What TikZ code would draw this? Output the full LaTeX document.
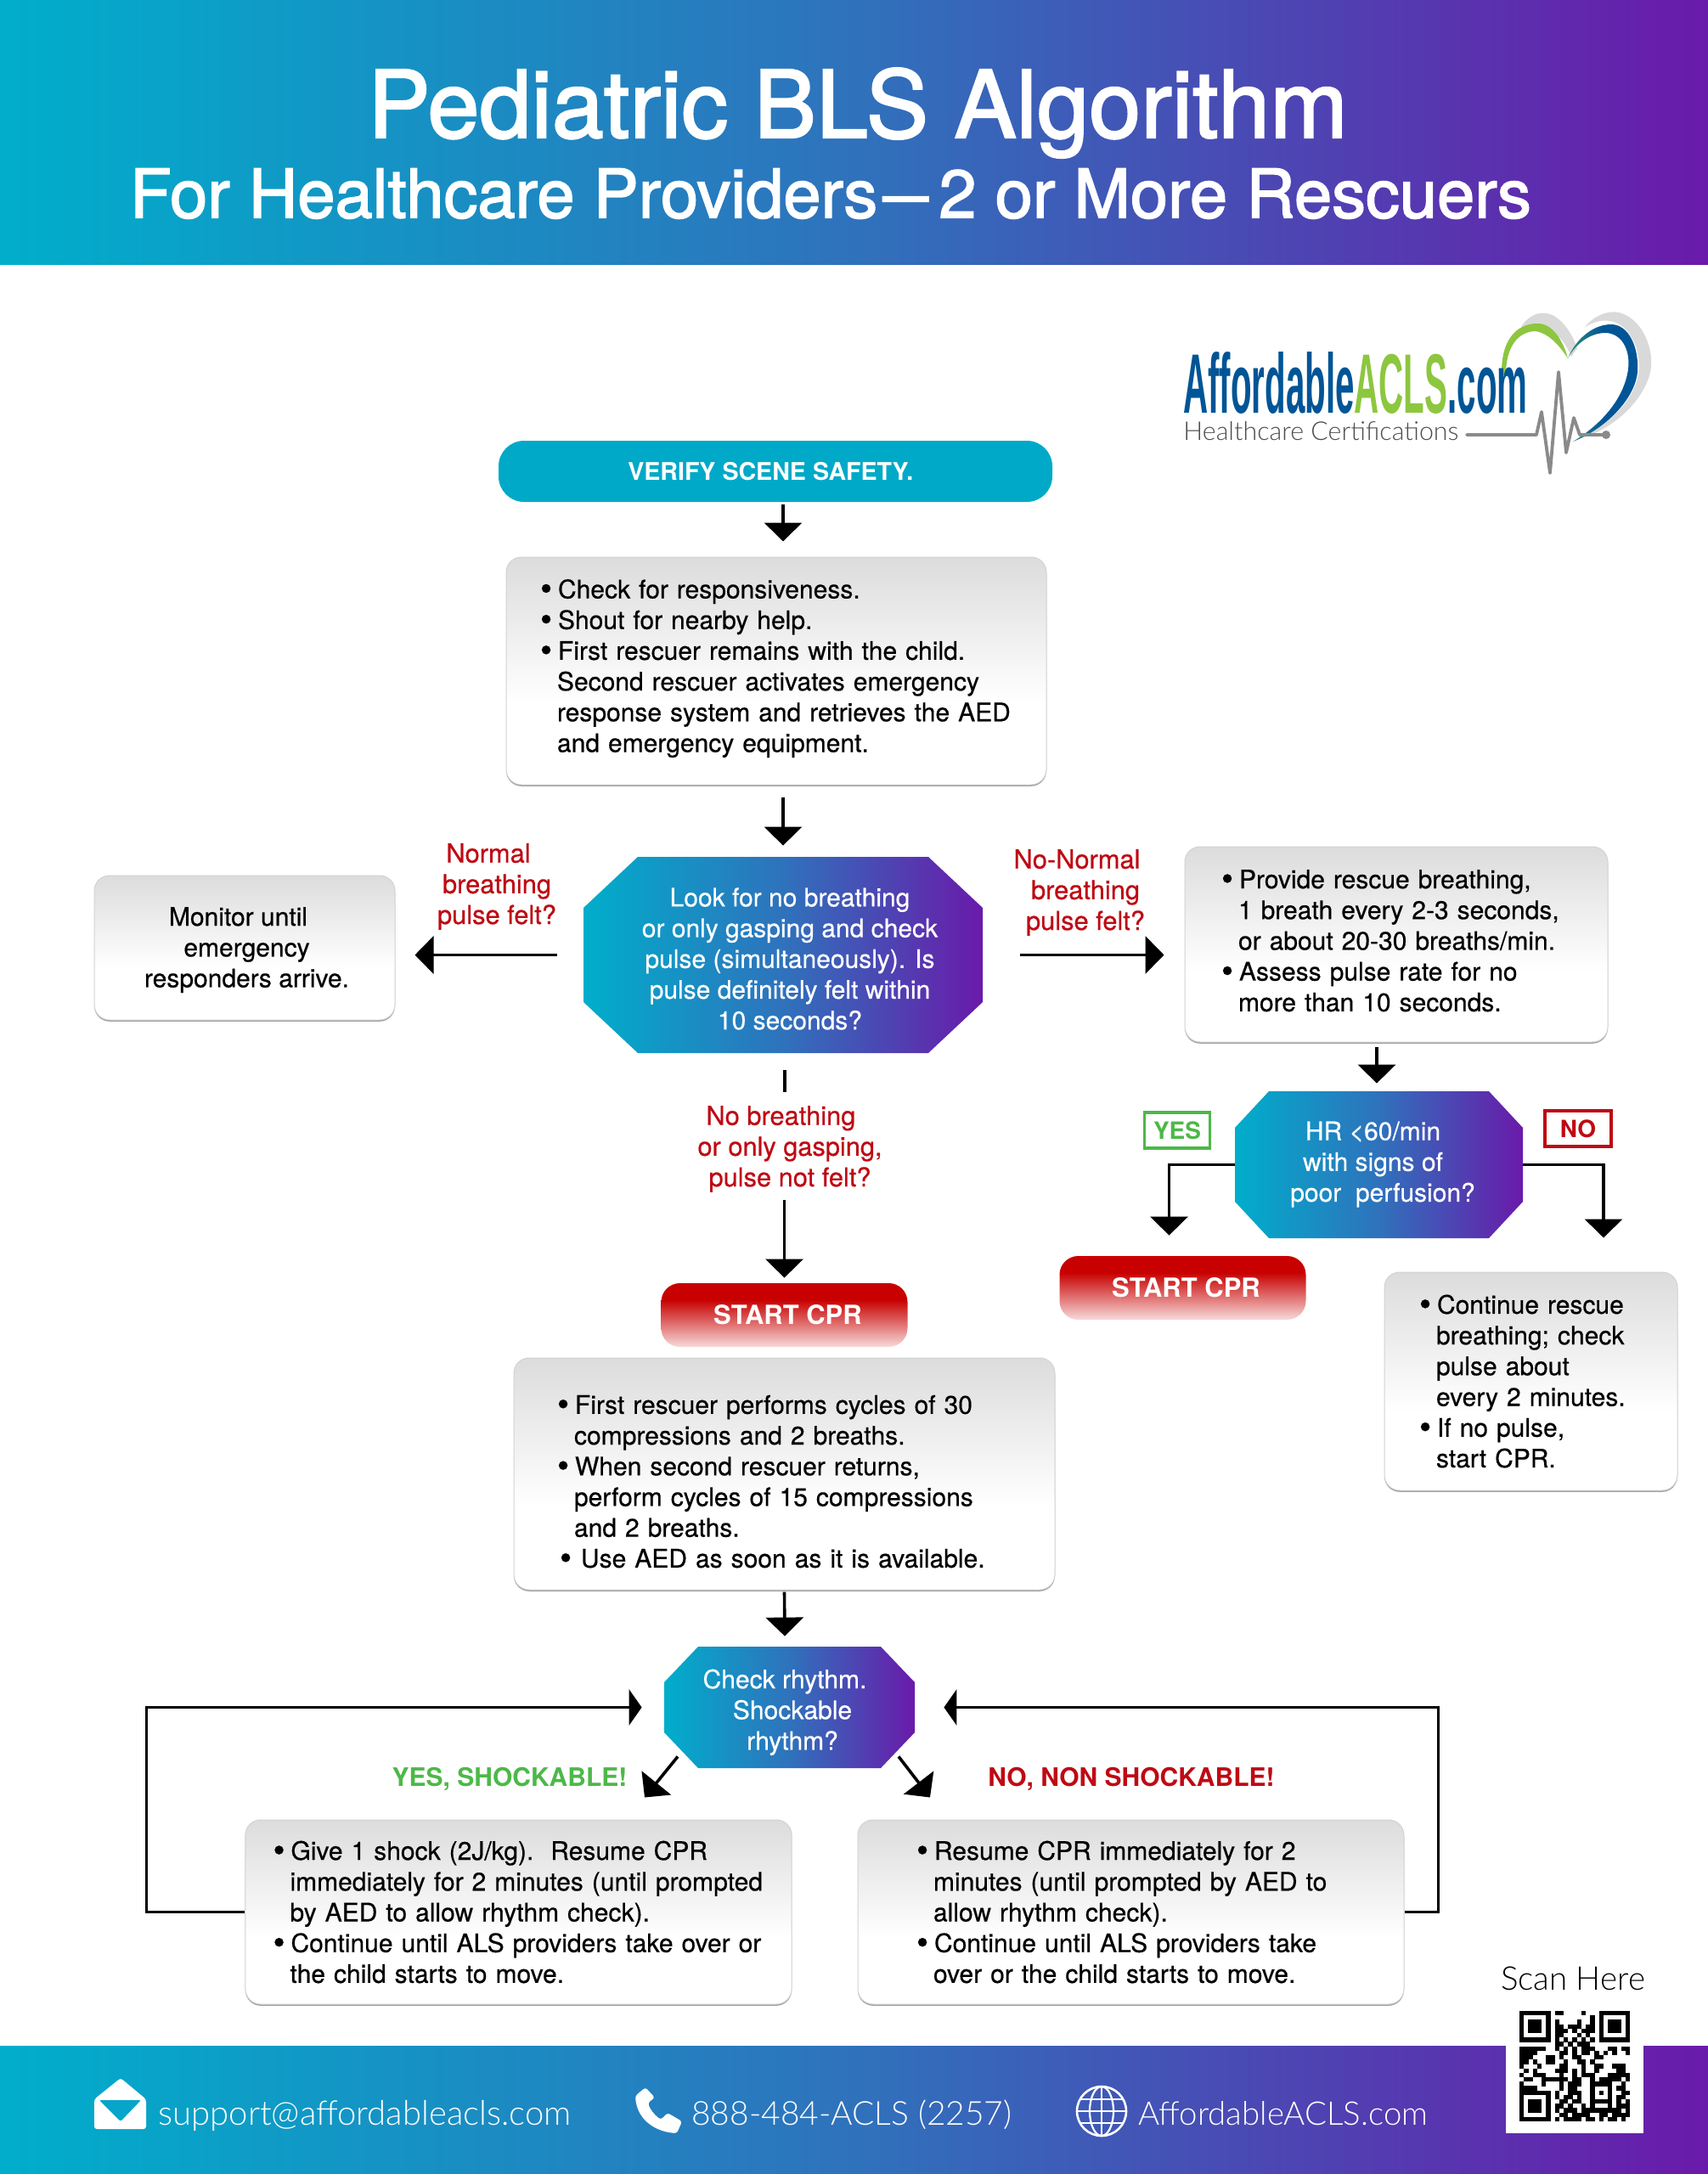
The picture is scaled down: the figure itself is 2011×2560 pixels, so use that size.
\documentclass[tikz,border=0pt]{standalone}
\usepackage{fontspec}
\usetikzlibrary{arrows.meta,calc,shadows}
\setmainfont{TeX Gyre Heros}
\newfontfamily\medb[FakeBold=0.5]{TeX Gyre Heros}
\newfontfamily\medt[FakeBold=2]{TeX Gyre Heros}
\newfontfamily\lightf{Lato Light}
\newfontfamily\logof{Liberation Sans}
\definecolor{cA}{HTML}{00AECB}
\definecolor{cB}{HTML}{2F72BC}
\definecolor{cC}{HTML}{6A1AAA}
\definecolor{teal0}{HTML}{00A9C7}
\definecolor{redT}{HTML}{BE0A14}
\definecolor{greenT}{HTML}{4DB848}
\definecolor{boxtop}{HTML}{DCDCDC}
\definecolor{cprtop}{HTML}{C80000}
\definecolor{cprbot}{HTML}{F8DADA}
\definecolor{logoB}{HTML}{005596}
\definecolor{logoG}{HTML}{8DC63F}
\definecolor{logoT}{HTML}{2E8B78}
\definecolor{logoY}{HTML}{D9D9D9}
\definecolor{ecg}{HTML}{8A8A8A}
\pgfdeclarehorizontalshading{brand}{100bp}{color(0bp)=(cA);color(25bp)=(cA);color(50bp)=(cB);color(75bp)=(cC);color(100bp)=(cC)}
\pgfdeclareverticalshading{boxshade}{100bp}{color(0bp)=(white);color(43bp)=(white);color(75bp)=(boxtop);color(100bp)=(boxtop)}
\pgfdeclareverticalshading{cprshade}{100bp}{color(0bp)=(cprbot);color(25bp)=(cprbot);color(62bp)=(cprtop);color(100bp)=(cprtop)}
\newcommand\bul{\makebox[10.5pt][l]{\raisebox{-0.08em}{\scalebox{1.35}{•}}}}
\newcommand\ind{\hspace*{10pt}}
\newcommand\shifted[2]{\hspace*{#1}\begin{tabular}{@{}c@{}}#2\end{tabular}}
\newcommand\octbg[6]{\shade[shading=brand] ({#1-#3/2+#5},{#2-#4/2}) -- ({#1+#3/2-#5},{#2-#4/2}) -- ({#1+#3/2},{#2-#4/2+#6}) -- ({#1+#3/2},{#2+#4/2-#6}) -- ({#1+#3/2-#5},{#2+#4/2}) -- ({#1-#3/2+#5},{#2+#4/2}) -- ({#1-#3/2},{#2+#4/2-#6}) -- ({#1-#3/2},{#2-#4/2+#6}) -- cycle;}
\newcount\qx
\def\qrparse#1{\ifx#1;\else\if#1X\fill[black] ({1789+\the\qx*5.2},{2368+\qy*5.2}) rectangle ++(5.4,5.4);\fi\global\advance\qx by 1 \expandafter\qrparse\fi}
\tikzset{
 x=0.5pt,y=-0.5pt,
 arr/.style={line width=1.8pt,-{Triangle[width=22pt,length=11pt]}},
 arrside/.style={line width=1.8pt,-{Triangle[width=21pt,length=7.5pt]}},
 boxn/.style={rectangle,rounded corners=9pt,draw=gray!35,line width=0.5pt,shade,shading=boxshade,
   general shadow={shadow yshift=-0.9pt,fill=gray!75},inner ysep=0pt,minimum height=#1,align=left,
   font=\medb\fontsize{15}{18.1}\selectfont,text=black},
 oct/.style={rectangle,inner sep=0pt,text=white,
   font=\medb\fontsize{15}{18.1}\selectfont},
 cprn/.style={rectangle,rounded corners=11pt,shade,shading=cprshade,minimum width=145pt,minimum height=37.5pt,
   text=white,font=\bfseries\fontsize{15.5}{18}\selectfont,inner sep=0pt},
 redl/.style={text=redT,font=\medb\fontsize{15.4}{18.1}\selectfont,inner sep=0pt},
 grnl/.style={text=greenT,font=\bfseries\fontsize{15}{18.1}\selectfont,inner sep=0pt},
 foot/.style={text=white,anchor=base west,inner sep=0pt},
}
\begin{document}
\begin{tikzpicture}
\useasboundingbox (0,0) rectangle (2011,2560);
\fill[white] (0,0) rectangle (2011,2560);
% header and footer bands
\shade[shading=brand] (0,0) rectangle (2011,311);
\shade[shading=brand] (0,2409) rectangle (2011,2560);
\node[text=white,font=\medt\fontsize{54.9}{60}\selectfont,inner sep=0pt] (title) at (1010,133) {Pediatric BLS Algorithm};
\node[text=white,font=\medt\fontsize{39.8}{44}\selectfont,inner sep=0pt] (subtitle) at (978,228) {For Healthcare Providers\hspace{3pt}\scalebox{0.68}[1]{—}\hspace{6pt}2 or More Rescuers};
% logo
\fill[logoY] (1791,385) .. controls (1800,370) and (1815,366) .. (1825,370) .. controls (1840,375) and (1852,395) .. (1857,410) -- (1850,420) .. controls (1840,395) and (1825,382) .. (1791,385) -- cycle;
\fill[logoY] (1866,385) .. controls (1880,368) and (1900,364) .. (1912,370) .. controls (1935,380) and (1946,410) .. (1944,432) .. controls (1940,470) and (1895,510) .. (1856,517) .. controls (1895,500) and (1928,470) .. (1930,432) .. controls (1930,405) and (1915,380) .. (1895,378) .. controls (1885,376) and (1875,380) .. (1866,385) -- cycle;
\fill[logoG] (1768,438) .. controls (1768,395) and (1790,380) .. (1812,381) .. controls (1828,382) and (1840,400) .. (1846,422) .. controls (1835,405) and (1822,392) .. (1808,390) .. controls (1790,390) and (1772,405) .. (1773,445) -- cycle;
\shade[left color=logoT,right color=logoB,middle color=logoB] (1846,422) .. controls (1855,400) and (1875,382) .. (1897,382) .. controls (1918,382) and (1930,410) .. (1928,438) .. controls (1925,470) and (1890,505) .. (1852,520) .. controls (1885,500) and (1912,470) .. (1917,435) .. controls (1920,410) and (1908,392) .. (1890,392) .. controls (1872,392) and (1855,405) .. (1846,422) -- cycle;
\node[anchor=south west,inner sep=0pt] (logotext) at (1393,488) {\resizebox{202.5pt}{36pt}{\logof\bfseries\color{logoB}Affordable\color{logoG}ACLS\color{logoB}.com}};
\node[anchor=base west,inner sep=0pt,text=black!70] (logosub) at (1393,518) {\resizebox{162pt}{!}{\lightf Healthcare Certifications}};
\draw[ecg,line width=1.9pt,line join=round,line cap=round] (1727,512) -- (1809,512) -- (1815,485) -- (1825,557) -- (1835,438) -- (1844,533) -- (1853,492) -- (1860,512) -- (1891,512);
\fill[ecg] (1891,512) circle (5);
% flow nodes
\node[rectangle,rounded corners=15pt,fill=teal0,minimum width=326pt,minimum height=36pt,text=white,font=\bfseries\fontsize{14.3}{18}\selectfont,inner sep=0pt] (verify) at (913,555) {VERIFY SCENE SAFETY.\hspace*{5.7pt}};
\node[boxn=134pt,text width=278pt,inner xsep=20pt] (check) at (914,790) {\bul Check for responsiveness.\\\bul Shout for nearby help.\\\bul First rescuer remains with the child.\\\ind Second rescuer activates emergency\\\ind response system and retrieves the AED\\\ind and emergency equipment.\rule[-6.2pt]{0pt}{6.2pt}};
\octbg{922}{1124.5}{470}{231}{64}{60}
\node[oct,minimum width=235pt,minimum height=115.5pt] (oct1) at (922,1124.5) {\shifted{8pt}{\rule{0pt}{20.7pt}Look for no breathing\\or only gasping and check\\pulse (simultaneously). Is\\pulse definitely felt within\\10 seconds?}};
\node[boxn=85pt,minimum width=177pt,inner xsep=0pt] (monitor) at (288,1116) {\shifted{2.5pt}{\rule{0pt}{15.7pt}Monitor until\hspace*{10pt}\\emergency\\responders arrive.}};
\node[boxn=115pt,text width=206pt,inner xsep=21.5pt] (rescue) at (1644,1112) {\bul Provide rescue breathing,\\\ind 1 breath every 2-3 seconds,\\\ind or about 20-30 breaths/min.\\\bul Assess pulse rate for no\\\ind more than 10 seconds.\rule[-4.5pt]{0pt}{4.5pt}};
\octbg{1623.5}{1371.5}{339}{173}{40}{43}
\node[oct,minimum width=169.5pt,minimum height=86.5pt] (oct2) at (1623.5,1371.5) {\shifted{4.5pt}{HR <60/min\hspace*{11.5pt}\\with signs of\hspace*{11.5pt}\\poor\ \ perfusion?}};
\node[rectangle,draw=greenT,line width=1.6pt,minimum width=38.5pt,minimum height=21pt,inner sep=0pt,text=greenT,font=\bfseries\fontsize{14}{16}\selectfont] (yes) at (1386,1331) {YES};
\node[rectangle,draw=redT,line width=1.6pt,minimum width=39pt,minimum height=21pt,inner sep=0pt,text=redT,font=\bfseries\fontsize{14}{16}\selectfont] (no) at (1858,1329) {NO};
\node[cprn] (cpr2) at (1392.5,1516.5) {\hspace*{4pt}START CPR};
\node[boxn=128.5pt,text width=131.5pt,inner xsep=20.5pt] (contin) at (1802.5,1626.5) {\bul Continue rescue\\\ind breathing; check\\\ind pulse about\\\ind every 2 minutes.\\\bul If no pulse,\\\ind start CPR.};
\node[redl,align=center] (normal) at (585,1044) {Normal\hspace*{10pt}\\breathing\\pulse felt?};
\node[redl,align=center] (nonormal) at (1278,1051) {No-Normal\hspace*{10pt}\\breathing\\pulse felt?};
\node[redl,align=center] (nobreath) at (930,1353) {No breathing\hspace*{10.6pt}\\or only gasping,\\pulse not felt?};
\node[cprn] (cpr1) at (923.5,1548.5) {\hspace*{4pt}START CPR};
\node[boxn=136.5pt,text width=267.5pt,inner xsep=25.5pt] (cycles) at (923.5,1735.5) {\rule{0pt}{21pt}\bul First rescuer performs cycles of 30\\\ind compressions and 2 breaths.\\\bul When second rescuer returns,\\\ind perform cycles of 15 compressions\\\ind and 2 breaths.\\\hspace*{1.5pt}\bul\hspace*{2pt}Use AED as soon as it is available.};
\octbg{929.5}{2010.5}{295}{143}{40}{42}
\node[oct,minimum width=147.5pt,minimum height=71.5pt] (rhythm) at (929.5,2010.5) {\shifted{3.5pt}{\rule{0pt}{19.2pt}Check rhythm.\hspace*{9pt}\\Shockable\\rhythm?}};
\node[grnl] (yesshock) at (600,2095) {YES, SHOCKABLE!};
\node[redl,font=\bfseries\fontsize{15}{18.1}\selectfont] (noshocklab) at (1332,2095) {NO, NON SHOCKABLE!};
\node[boxn=108.5pt,text width=289pt,inner xsep=16.3pt] (shockbox) at (610.5,2251.5) {\bul Give 1 shock (2J/kg).\ \ Resume CPR\\\ind immediately for 2 minutes (until prompted\\\ind by AED to allow rhythm check).\\\bul Continue until ALS providers take over or\\\ind the child starts to move.};
\node[boxn=108.5pt,text width=252.5pt,inner xsep=34.5pt] (noshock) at (1331.5,2251.5) {\bul Resume CPR immediately for 2\\\ind minutes (until prompted by AED to\\\ind allow rhythm check).\\\bul Continue until ALS providers take\\\ind over or the child starts to move.};
% connectors
\draw[arr] ($(verify.south)+(9,3)$) -- ($(check.north)+(8,-18)$);
\draw[arr] ($(check.south)+(8,14)$) -- ($(oct1.north)+(0,-13)$);
\draw[arr] ($(oct1.west)+(-31,0)$) -- ($(monitor.east)+(23,8.5)$);
\draw[arr] ($(oct1.east)+(44,0)$) -- ($(rescue.west)+(-24,12.5)$);
\draw[arr] ($(rescue.south)+(-23,5)$) -- ($(oct2.north)+(-2.5,-9)$);
\draw[arr] (oct2.west) -| ($(cpr2.north)+(-16,-24)$);
\draw[arr] (oct2.east) -| ($(contin.north)+(85.5,-40)$);
\draw[line width=1.6pt] ($(oct1.south)+(2,20)$) -- ($(oct1.south)+(2,46)$);
\draw[arr] ($(nobreath.south -| cpr1.north)+(0,9)$) -- ($(cpr1.north)+(0,-6)$);
\draw[arr] ($(cycles.south)+(0,2)$) -- ($(rhythm.north)+(-5.5,-12)$);
\draw[arr] ($(rhythm.south)+(-131.5,-14)$) -- ($(shockbox.north)+(148.5,-26)$);
\draw[arr] ($(rhythm.south)+(128.5,-14)$) -- ($(noshock.north)+(-236.5,-26)$);
\draw[arrside] (shockbox.west) -- ++(-116,0) |- ($(rhythm.west)+(-26,0)$);
\draw[arrside] (noshock.east) -- ++(40,0) |- ($(rhythm.east)+(34,0)$);
% footer icons
\fill[white,rounded corners=1.5pt] (111,2472) -- (142,2447) -- (172,2472) -- (172,2507) -- (111,2507) -- cycle;
\fill[cA!85!cB,rounded corners=1pt] (117,2473) -- (166,2473) -- (142,2498) -- cycle;
\fill[white,rounded corners=1.5pt] (748,2468) .. controls (750,2495) and (770,2510) .. (797,2512) -- (803,2498) -- (786,2488) -- (778,2496) .. controls (770,2490) and (765,2483) .. (763,2476) -- (771,2470) -- (760,2458) -- cycle;
\draw[white,line width=1.3pt] (1297,2486) circle (29);
\draw[white,line width=1.1pt] (1297,2486) ellipse (14 and 29);
\draw[white,line width=1.1pt] (1297,2457) -- (1297,2515) (1268,2486) -- (1326,2486) (1273,2472) -- (1321,2472) (1273,2500) -- (1321,2500);
\node[foot] (mail) at (186,2502) {\resizebox{243pt}{!}{\lightf support@affordableacls.com}};
\node[foot] (phone) at (814,2502) {\resizebox{188.5pt}{!}{\lightf 888-484-ACLS (2257)}};
\node[foot] (site) at (1340,2502) {\resizebox{170.5pt}{!}{\lightf AffordableACLS.com}};
\node[anchor=base,inner sep=0pt] (scan) at (1852,2343) {\resizebox{85pt}{!}{\lightf Scan Here}};
% QR
\fill[white] (1773,2363) rectangle (1935,2512);
\foreach \rw [count=\qy from 0] in {
XXXXXXXoXXooooXoooXXXXXXX,
XoooooXoooooooooXoXoooooX,
XoXXXoXoXooooXooXoXoXXXoX,
XoXXXoXoXXoXXXoXXoXoXXXoX,
XoXXXoXoXXXoXoXXXoXoXXXoX,
XoooooXoXXoooXoXooXoooooX,
XXXXXXXoXoXoXoXoXoXXXXXXX,
ooooooooXXoXoXXXooooooooo,
XXXXXXooXoXoXoXXXoooXXoXX,
XXXXoooooXXoXoXXoXoXoXooX,
XXXoooXXoXooXXoooXXoooooo,
XXoXooXXooXooXXoXoooooooo,
XoooXooooXXoooXooXXooXXXo,
oXoXooooXXXoXoXooXooooXXo,
XooXXXoooXooXoXXXoooXXXXX,
oXXooXXXXXXoXXooXoXXXXXoX,
XooooXoooXoXXXooXXXXXooXo,
XXXXoooooXoXXoooXoooXoXXo,
XXXXXXXoXooXXXooXoXoXooXX,
XoooooXoXoXXoXooXoooXoXXo,
XoXXXoXooXXoXXooXXXXXoXoX,
XoXXXoXoXXoXooXoXoooXoXXX,
XoXXXoXoXoXXXoXXXXXXXXXoX,
XoooooXooXXoXXXXooXXoXXXX,
XXXXXXXoXoXXXXoXXoXoXXoXo} {
 \global\qx=0
 \expandafter\qrparse\rw;
}
\end{tikzpicture}
\end{document}
